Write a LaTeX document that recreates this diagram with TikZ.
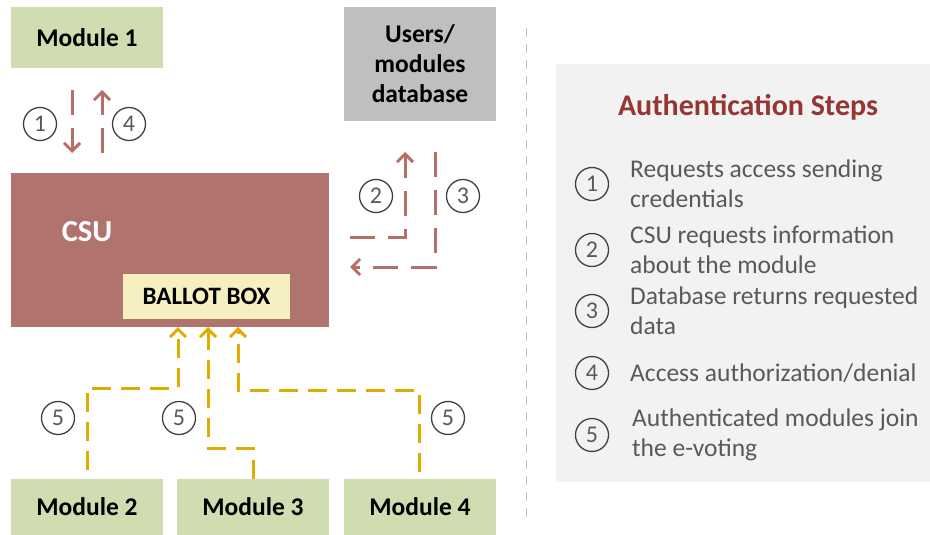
\documentclass[tikz,border=0pt]{standalone}
\usepackage{fontspec}
\setmainfont{Carlito}
\usetikzlibrary{arrows.meta}
\definecolor{modgreen}{HTML}{D0DDB0}
\definecolor{dbgray}{HTML}{BFBFBF}
\definecolor{csured}{HTML}{B1736D}
\definecolor{ballot}{HTML}{F5EFC2}
\definecolor{arrred}{HTML}{B56E68}
\definecolor{arryel}{HTML}{E1AC00}
\definecolor{panel}{HTML}{F2F2F2}
\definecolor{titlered}{HTML}{943634}
\definecolor{txtgray}{HTML}{595959}
\definecolor{circgray}{HTML}{404040}
\tikzset{
  box/.style={rectangle, inner sep=0pt, align=center, font=\fontsize{25.5}{30}\selectfont\bfseries},
  numcirc/.style={circle, draw=circgray, line width=1.3pt, minimum size=33pt, inner sep=0pt, text=txtgray, font=\fontsize{24}{24}\selectfont},
  redarr/.style={draw=arrred, line width=3pt, dash pattern=on 25pt off 13pt, -{Straight Barb[length=8pt,width=16pt,line width=3pt]}},
  yelarr/.style={draw=arryel, line width=3pt, dash pattern=on 19pt off 10pt, -{Straight Barb[length=8pt,width=16pt,line width=3pt]}},
  steptext/.style={anchor=west, align=left, text=txtgray, font=\fontsize{25.5}{30}\selectfont, inner sep=0pt},
}
\begin{document}
\begin{tikzpicture}[x=1pt,y=-1pt]
\useasboundingbox (0,0) rectangle (930,535);
% boxes
\node[box, fill=modgreen, minimum width=152pt, minimum height=61pt] (m1) at (87,37.5) {Module 1};
\node[box, fill=dbgray, minimum width=152pt, minimum height=114pt] (db) at (420,64) {Users/\\modules\\database};
\node[box, fill=csured, minimum width=318pt, minimum height=154pt] (csu) at (170,250) {};
\node[text=white, font=\fontsize{30.5}{30.5}\selectfont\bfseries] (csulabel) at (87,232) {CSU};
\node[box, fill=ballot, minimum width=167pt, minimum height=45pt, font=\fontsize{25}{25}\selectfont\bfseries] (bb) at (206.5,296.5) {BALLOT BOX};
\node[box, fill=modgreen, minimum width=152pt, minimum height=56pt] (m2) at (87,507) {Module 2};
\node[box, fill=modgreen, minimum width=152pt, minimum height=56pt] (m3) at (253,507) {Module 3};
\node[box, fill=modgreen, minimum width=152pt, minimum height=56pt] (m4) at (420,507) {Module 4};
% red connectors
\coordinate (a1s) at (72,90); \coordinate (a1e) at (72,153);
\coordinate (a4s) at (102,153); \coordinate (a4e) at (102,90);
\draw[redarr] (a1s) -- (a1e);
\draw[redarr] (a4s) -- (a4e);
\coordinate (a2s) at (350,237); \coordinate (a2c) at (405,237); \coordinate (a2e) at (405,152);
\draw[redarr] (a2s) -- (a2c) -- (a2e);
\coordinate (a3s) at (435,152); \coordinate (a3c) at (435,267); \coordinate (a3e) at (350,267);
\draw[redarr] (a3s) -- (a3c) -- (a3e);
\node[numcirc] (c1) at (40,124) {1};
\node[numcirc] (c4) at (129,124) {4};
\node[numcirc] (c2) at (376,196) {2};
\node[numcirc] (c3) at (463,196) {3};
% yellow connectors
\coordinate (y1s) at (87,470); \coordinate (y1a) at (87,388); \coordinate (y1b) at (178,388); \coordinate (y1e) at (178,327);
\draw[yelarr] (y1s) -- (y1a) -- (y1b) -- (y1e);
\coordinate (y2a) at (253,448); \coordinate (y2b) at (208,448); \coordinate (y2e) at (208,327);
\draw[yelarr] (m3.north -| y2a) -- (y2a) -- (y2b) -- (y2e);
\coordinate (y3s) at (419,472); \coordinate (y3a) at (419,390); \coordinate (y3b) at (238,390); \coordinate (y3e) at (238,327);
\draw[yelarr] (y3s) -- (y3a) -- (y3b) -- (y3e);
\node[numcirc] (c5a) at (58,418) {5};
\node[numcirc] (c5b) at (179,418) {5};
\node[numcirc] (c5c) at (448,418) {5};
% separator
\coordinate (sepT) at (526,28); \coordinate (sepB) at (526,520);
\draw[draw=dbgray, line width=1pt, dash pattern=on 9pt off 7pt] (sepT) -- (sepB);
% panel
\node[rectangle, fill=panel, minimum width=374pt, minimum height=418pt, inner sep=0pt] (panel) at (743,273) {};
\node[text=titlered, font=\fontsize{30}{30}\selectfont\bfseries] (title) at (748,107) {Authentication Steps};
\node[numcirc] (s1) at (592,184) {1};
\node[numcirc] (s2) at (592,250) {2};
\node[numcirc] (s3) at (592,311) {3};
\node[numcirc] (s4) at (592,373) {4};
\node[numcirc] (s5) at (592,435) {5};
\node[steptext] (t1) at (630,184) {Requests access sending\\credentials};
\node[steptext] (t2) at (630,250) {CSU requests information\\about the module};
\node[steptext] (t3) at (630,311) {Database returns requested\\data};
\node[steptext] (t4) at (630,373) {Access authorization/denial};
\node[steptext] (t5) at (632,435) {Authenticated modules join\\the e-voting};
\end{tikzpicture}
\end{document}
